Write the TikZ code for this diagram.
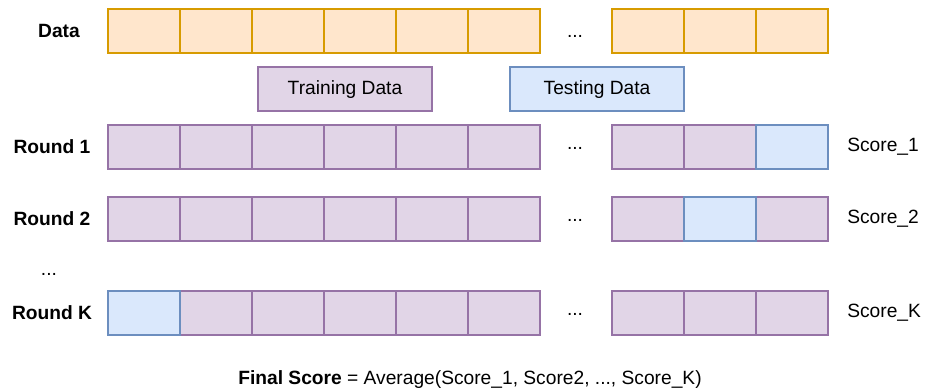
\documentclass[tikz,border=0pt]{standalone}
\usepackage{fontspec}
\setmainfont{Liberation Sans}
\definecolor{orF}{HTML}{FFE6CC}\definecolor{orD}{HTML}{D79B00}
\definecolor{puF}{HTML}{E1D5E7}\definecolor{puD}{HTML}{9673A6}
\definecolor{blF}{HTML}{DAE8FC}\definecolor{blD}{HTML}{6C8EBF}
\tikzset{
  cellbox/.style={draw, line width=1.5pt, minimum width=54pt, minimum height=33pt, inner sep=0pt, outer sep=0pt},
  ocell/.style={cellbox, fill=orF, draw=orD},
  pcell/.style={cellbox, fill=puF, draw=puD},
  bcell/.style={cellbox, fill=blF, draw=blD},
  lbl/.style={font=\fontsize{14.4}{16}\selectfont\bfseries, inner sep=0pt},
  txt/.style={font=\fontsize{14.4}{16}\selectfont, inner sep=0pt},
}
\begin{document}
\begin{tikzpicture}[x=0.75pt,y=-0.75pt]
\useasboundingbox (0,0) rectangle (927,391);
% Data row
\node[lbl] (ldata) at (59,31) {Data};
\foreach \i in {1,...,6} \node[ocell] (d\i) at ({72+72*\i},31) {};
\foreach \j [evaluate=\j as \k using int(\j+6)] in {1,2,3} \node[ocell] (d\k) at ({576+72*\j},31) {};
\node[txt] (ddots) at (575,36) {...};
% legend
\node[pcell, minimum width=130.5pt, minimum height=33pt] (train) at (345,89) {};
\node[txt] (traint) at (345,90) {Training Data};
\node[bcell, minimum width=130.5pt, minimum height=33pt] (test) at (597,89) {};
\node[txt] (testt) at (597,90) {Testing Data};
% Rounds
\foreach \r/\y/\name/\score in {a/147/Round 1/Score\_1, b/219/Round 2/Score\_2, c/313/Round K/Score\_K}{
  \node[lbl] (l\r) at (52,\y) {\name};
  \foreach \i in {1,...,6} \node[pcell] (\r\i) at ({72+72*\i},\y) {};
  \foreach \j [evaluate=\j as \k using int(\j+6)] in {1,2,3} \node[pcell] (\r\k) at ({576+72*\j},\y) {};
  \node[txt] (\r dots) at (575,\y+1.5) {...};
  \node[txt, anchor=west] (s\r) at (847,\y) {\score};
}
\node[bcell] (a9b) at (a9.center) {};
\node[bcell] (b8b) at (b8.center) {};
\node[bcell] (c1b) at (c1.center) {};
\node[txt] (vdots) at (49,274) {...};
\node[txt] (final) at (470,380) {\textbf{Final Score} = Average(Score\_1, Score2, ..., Score\_K)};
\end{tikzpicture}
\end{document}
